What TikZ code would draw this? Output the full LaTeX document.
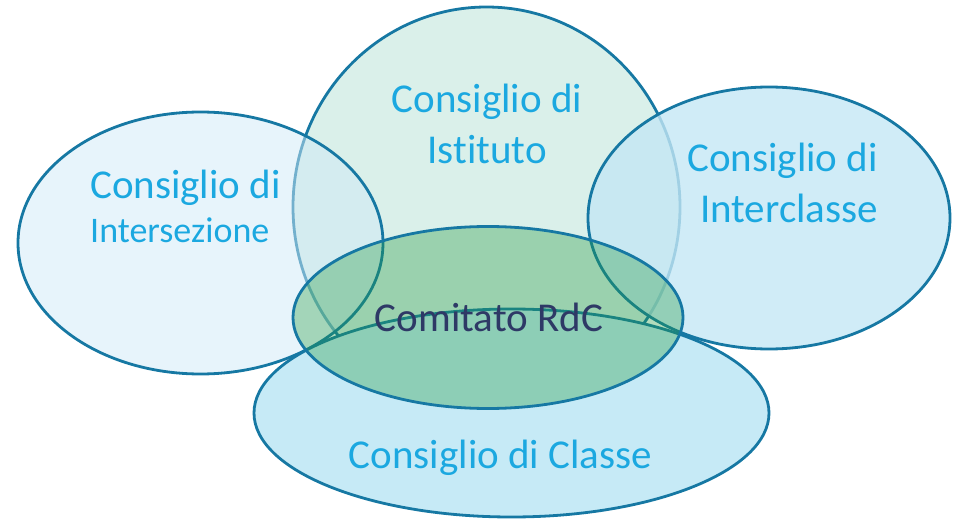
\documentclass[tikz,border=0pt]{standalone}
\usepackage{fontspec}
\setmainfont[RawFeature={-liga;-clig;-dlig}]{Carlito}
\usetikzlibrary{shapes.geometric}
\definecolor{edgec}{RGB}{22,120,163}
\definecolor{txtc}{RGB}{27,168,224}
\definecolor{darktxt}{RGB}{46,57,102}
\definecolor{circfill}{RGB}{218,240,234}
\definecolor{leftfill}{RGB}{208,233,247}
\definecolor{rightfill}{RGB}{196,231,245}
\definecolor{botfill}{RGB}{198,234,246}
\definecolor{comfill}{RGB}{35,154,63}
\tikzset{
  blob/.style={ellipse, draw=edgec, line width=2.8pt, inner sep=0pt},
  lbl/.style={text=txtc, inner sep=0pt, font=\fontsize{41}{41}\selectfont},
  lblsmall/.style={text=txtc, inner sep=0pt, font=\fontsize{36}{36}\selectfont},
}
\begin{document}
\begin{tikzpicture}[x=1pt,y=-1pt]
\useasboundingbox (0,0) rectangle (955,521);
% ellipses
\node[blob, fill=circfill, minimum width=387pt, minimum height=400pt] (istituto) at (486.5,207) {};
\node[blob, fill=leftfill, fill opacity=0.5, minimum width=365pt, minimum height=262pt] (intersezione) at (200.5,243) {};
\node[blob, fill=rightfill, fill opacity=0.8, minimum width=362pt, minimum height=262pt] (interclasse) at (769,218) {};
\node[blob, fill=botfill, minimum width=515pt, minimum height=208pt] (classe) at (511.5,413) {};
\node[blob, fill=comfill, fill opacity=0.35, minimum width=390pt, minimum height=182pt] (comitato) at (488,317.5) {};
% labels
\node[lbl, anchor=base west] (t1a) at (90,199) {Consiglio di};
\node[lblsmall, anchor=base west] (t1b) at (90,243) {Intersezione};
\node[lbl, anchor=base] (t2a) at (487,113) {Consiglio di};
\node[lbl, anchor=base] (t2b) at (487,164) {Ist\kern0pt ituto};
\node[lbl, anchor=base east] (t3a) at (878,172) {Consiglio di};
\node[lbl, anchor=base east] (t3b) at (878,223) {Interclasse};
\node[lbl, anchor=base, text=darktxt] (t4) at (489,331) {Comitato RdC};
\node[lbl, anchor=base] (t5) at (500.5,468) {Consiglio di Classe};
\end{tikzpicture}
\end{document}
